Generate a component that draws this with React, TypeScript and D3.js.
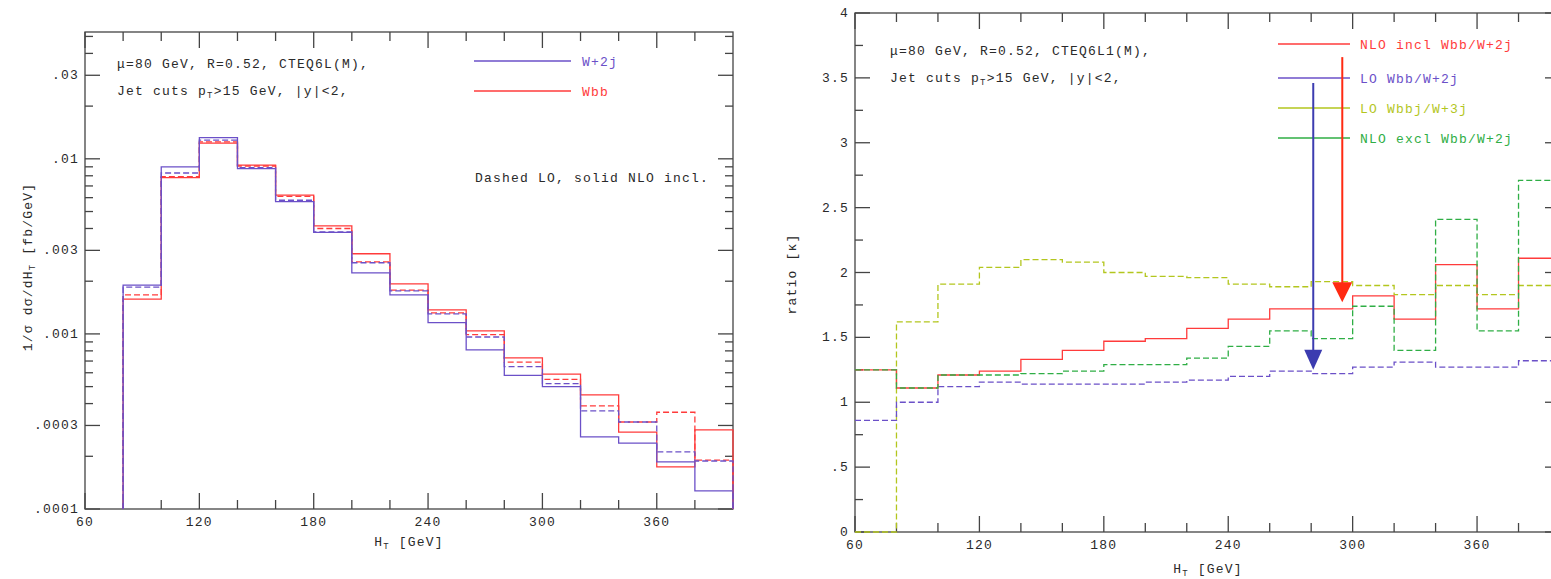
import React from 'react';
import * as d3 from 'd3';

// H_T bin edges
const leftEdges = d3.range(80, 401, 20);
const rightEdges = d3.range(60, 401, 20);

// left panel: 1/sigma dsigma/dH_T
const w2jNLO = [0.0019, 0.0090, 0.0132, 0.0088, 0.0057, 0.0038, 0.00223, 0.00167, 0.00116, 0.00081, 0.00058, 0.00050, 0.000258, 0.000238, 0.000186, 0.000127];
const w2jLO = [0.00185, 0.0083, 0.0128, 0.0089, 0.0058, 0.00383, 0.00255, 0.00176, 0.00130, 0.00096, 0.00065, 0.00052, 0.000363, 0.000314, 0.000212, 0.000188];
const wbbNLO = [0.00158, 0.0078, 0.0123, 0.0092, 0.0062, 0.00414, 0.00287, 0.00193, 0.00137, 0.00104, 0.00073, 0.00059, 0.000448, 0.000275, 0.000174, 0.000283];
const wbbLO = [0.00167, 0.0079, 0.0125, 0.0091, 0.0061, 0.0040, 0.00258, 0.00178, 0.00132, 0.00099, 0.00069, 0.00055, 0.000388, 0.000314, 0.000357, 0.00019];

// right panel: ratios
const nloIncl = [1.25, 1.11, 1.21, 1.24, 1.33, 1.40, 1.47, 1.49, 1.57, 1.64, 1.72, 1.72, 1.82, 1.64, 2.06, 1.72, 2.11];
const loWbb = [0.86, 1.00, 1.12, 1.155, 1.14, 1.14, 1.14, 1.155, 1.17, 1.20, 1.24, 1.22, 1.27, 1.31, 1.27, 1.27, 1.32];
const loWbbj = [0, 1.62, 1.91, 2.04, 2.10, 2.08, 2.00, 1.97, 1.96, 1.91, 1.89, 1.93, 1.90, 1.83, 1.90, 1.83, 1.90];
const nloExcl = [1.25, 1.11, 1.21, 1.21, 1.22, 1.24, 1.29, 1.29, 1.34, 1.43, 1.55, 1.49, 1.74, 1.40, 2.41, 1.55, 2.71];

// arrows: [H_T, from, to]
const blueArrow = [281, 3.46, 1.25];
const redArrow = [295, 3.66, 1.77];

const xMajor = [60, 120, 180, 240, 300, 360];
const xMinor = [80, 100, 140, 160, 200, 220, 260, 280, 320, 340, 380];
const logMajor = [0.0001, 0.0003, 0.001, 0.003, 0.01, 0.03];
const logMajorLabels = ['.0001', '.0003', '.001', '.003', '.01', '.03'];
const ratioMajor = [0, 0.5, 1, 1.5, 2, 2.5, 3, 3.5, 4];
const ratioMajorLabels = ['0', '.5', '1', '1.5', '2', '2.5', '3', '3.5', '4'];

const PURPLE = '#6b50c8';
const RED = '#ff3b3b';
const YEL = '#b3c61e';
const GREEN = '#2fae45';
const FONT = '"Liberation Mono", "DejaVu Sans Mono", monospace';
const TXT = '#2a2a2a';
const AX = '#444';

const textStyle = { fontFamily: FONT, fontSize: 13, letterSpacing: 1.2, fill: TXT } as const;

function stepPath(edges: number[], vals: number[], x: any, y: any, base?: number) {
  const pts: [number, number][] = [];
  if (base !== undefined) pts.push([edges[0], base]);
  vals.forEach((v, i) => pts.push([edges[i], v]));
  pts.push([edges[edges.length - 1], vals[vals.length - 1]]);
  if (base !== undefined) pts.push([edges[edges.length - 1], base]);
  const line = d3.line<[number, number]>()
    .x(d => x(d[0]))
    .y(d => y(d[1]))
    .curve(d3.curveStepAfter);
  return line(pts) || '';
}

function Frame({ x, y, yMajor, yMinor, yLabels }: any) {
  const [x0, x1] = x.range();
  const [y0, y1] = y.range();
  const out: any[] = [];
  const mj = 16, mn = 9;
  xMajor.forEach((v, i) => {
    const px = x(v);
    out.push(<line key={'xb' + i} x1={px} x2={px} y1={y0} y2={y0 - mj} />);
    out.push(<line key={'xt' + i} x1={px} x2={px} y1={y1} y2={y1 + mj} />);
  });
  xMinor.forEach((v, i) => {
    const px = x(v);
    out.push(<line key={'xbm' + i} x1={px} x2={px} y1={y0} y2={y0 - mn} />);
    out.push(<line key={'xtm' + i} x1={px} x2={px} y1={y1} y2={y1 + mn} />);
  });
  yMajor.forEach((v: number, i: number) => {
    const py = y(v);
    out.push(<line key={'yl' + i} x1={x0} x2={x0 + 15} y1={py} y2={py} />);
    out.push(<line key={'yr' + i} x1={x1} x2={x1 - 15} y1={py} y2={py} />);
  });
  yMinor.forEach((v: number, i: number) => {
    const py = y(v);
    out.push(<line key={'ylm' + i} x1={x0} x2={x0 + 8} y1={py} y2={py} />);
    out.push(<line key={'yrm' + i} x1={x1} x2={x1 - 8} y1={py} y2={py} />);
  });
  return (
    <g>
      <g stroke={AX} strokeWidth={1.3}>
        <rect x={x0} y={y1} width={x1 - x0} height={y0 - y1} fill="none" />
        {out}
      </g>
      {xMajor.map(v => (
        <text key={'xl' + v} x={x(v)} y={y0 + 17} textAnchor="middle" style={textStyle}>{v}</text>
      ))}
      {yMajor.map((v: number, i: number) => (
        <text key={'ylab' + v} x={x0 - 6} y={y(v) + 4} textAnchor="end" style={textStyle}>{yLabels[i]}</text>
      ))}
    </g>
  );
}

function HT({ x, y }: { x: number; y: number }) {
  return (
    <text x={x} y={y} textAnchor="middle" style={textStyle}>
      H<tspan fontSize={9} dy={3}>T</tspan><tspan dy={-3}> [GeV]</tspan>
    </text>
  );
}

function Cuts({ x, y, pdf }: { x: number; y: number; pdf: string }) {
  return (
    <g>
      <text x={x} y={y} style={textStyle}>μ=80 GeV, R=0.52, {pdf},</text>
      <text x={x} y={y + 27} style={textStyle}>
        Jet cuts p<tspan fontSize={9} dy={3}>T</tspan><tspan dy={-3}>&gt;15 GeV, |y|&lt;2,</tspan>
      </text>
    </g>
  );
}

function Arrow({ a, x, y, color, w }: any) {
  const px = x(a[0]);
  const top = y(a[1]);
  const tip = y(a[2]);
  return (
    <g>
      <line x1={px} x2={px} y1={top} y2={tip - 16} stroke={color} strokeWidth={2} />
      <path d={`M${px - w / 2},${tip - 20}L${px + w / 2},${tip - 20}L${px},${tip}Z`} fill={color} />
    </g>
  );
}

export default function App() {
  const xl = d3.scaleLinear().domain([60, 400]).range([85, 733]);
  const yl = d3.scaleLog().domain([0.0001, 0.053]).range([509, 32]);
  const xr = d3.scaleLinear().domain([60, 400]).range([855, 1560]);
  const yr = d3.scaleLinear().domain([0, 4]).range([532, 13]);

  const logMinor: number[] = [];
  [0.0001, 0.001, 0.01].forEach(d => {
    for (let k = 2; k <= 9; k++) {
      const v = k * d;
      if (k !== 3 && v <= 0.053) logMinor.push(v);
    }
  });
  const ratioMinor = d3.range(0.25, 4, 0.5);

  const dash = '6,3';

  return (
    <svg width={1551} height={579} style={{ position: 'absolute', left: 0, top: 0, background: '#fff' }}>
      {/* left panel */}
      <Frame x={xl} y={yl} yMajor={logMajor} yMinor={logMinor} yLabels={logMajorLabels} />
      <g fill="none" strokeWidth={1.3}>
        <path d={stepPath(leftEdges, wbbLO, xl, yl, 0.0001)} stroke={RED} strokeDasharray={dash} />
        <path d={stepPath(leftEdges, wbbNLO, xl, yl, 0.0001)} stroke={RED} />
        <path d={stepPath(leftEdges, w2jLO, xl, yl, 0.0001)} stroke={PURPLE} strokeDasharray={dash} />
        <path d={stepPath(leftEdges, w2jNLO, xl, yl, 0.0001)} stroke={PURPLE} />
      </g>
      <Cuts x={117} y={68} pdf="CTEQ6L(M)" />
      <line x1={474} x2={571} y1={61} y2={61} stroke={PURPLE} strokeWidth={1.3} />
      <text x={582} y={66} style={{ ...textStyle, fill: PURPLE }}>W+2j</text>
      <line x1={474} x2={571} y1={91} y2={91} stroke={RED} strokeWidth={1.3} />
      <text x={582} y={96} style={{ ...textStyle, fill: RED }}>Wbb</text>
      <text x={475} y={182} style={textStyle}>Dashed LO, solid NLO incl.</text>
      <text transform="translate(32,267) rotate(-90)" textAnchor="middle" style={textStyle}>
        1/σ dσ/dH<tspan fontSize={9} dy={3}>T</tspan><tspan dy={-3}> [fb/GeV]</tspan>
      </text>
      <HT x={409} y={546} />

      {/* right panel */}
      <Frame x={xr} y={yr} yMajor={ratioMajor} yMinor={ratioMinor} yLabels={ratioMajorLabels} />
      <g fill="none" strokeWidth={1.3}>
        <path d={stepPath(rightEdges, loWbbj, xr, yr)} stroke={YEL} strokeDasharray={dash} />
        <path d={stepPath(rightEdges, loWbb, xr, yr)} stroke={PURPLE} strokeDasharray={dash} />
        <path d={stepPath(rightEdges, nloIncl, xr, yr)} stroke={RED} />
        <path d={stepPath(rightEdges, nloExcl, xr, yr)} stroke={GREEN} strokeDasharray={dash} />
      </g>
      <Cuts x={890} y={55} pdf="CTEQ6L1(M)" />
      {[
        ['NLO incl Wbb/W+2j', RED],
        ['LO Wbb/W+2j', PURPLE],
        ['LO Wbbj/W+3j', YEL],
        ['NLO excl Wbb/W+2j', GREEN],
      ].map(([label, c], i) => {
        const ly = [44, 78, 108, 138][i];
        return (
          <g key={label}>
            <line x1={1278} x2={1350} y1={ly} y2={ly} stroke={c} strokeWidth={1.3} />
            <text x={1360} y={ly + 5} style={{ ...textStyle, fill: c }}>{label}</text>
          </g>
        );
      })}
      <Arrow a={blueArrow} x={xr} y={yr} color="#3c3cb0" w={18} />
      <Arrow a={redArrow} x={xr} y={yr} color="#ff2a12" w={20} />
      <text transform="translate(796,274) rotate(-90)" textAnchor="middle" style={textStyle}>ratio [κ]</text>
      <HT x={1208} y={573} />
    </svg>
  );
}
